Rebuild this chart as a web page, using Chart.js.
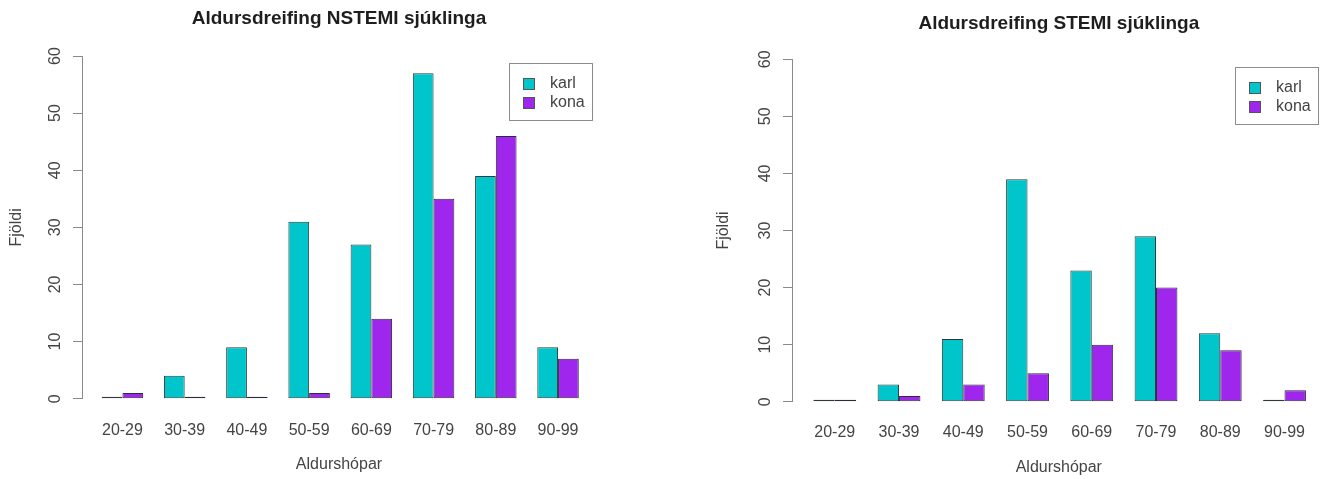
<!DOCTYPE html>
<html>
<head>
<meta charset="utf-8">
<title>Aldursdreifing</title>
<script src="https://cdn.jsdelivr.net/npm/chart.js@4.4.0/dist/chart.umd.min.js"></script>
<style>
    html, body { margin: 0; padding: 0; background: #fff; overflow: hidden; }
    body { width: 1322px; height: 479px; position: relative; }
    .box { position: absolute; top: 0; height: 479px; }
    #box_nstemi { left: 0; width: 661px; }
    #box_stemi { left: 700px; width: 626px; }
</style>
</head>
<body>
<div class="box" id="box_nstemi"><canvas id="nstemi"></canvas></div>
<div class="box" id="box_stemi"><canvas id="stemi"></canvas></div>
<script>
    const ageGroups = ['20-29', '30-39', '40-49', '50-59', '60-69', '70-79', '80-89', '90-99'];
    const yTicks = [0, 10, 20, 30, 40, 50, 60];
    const seriesNames = ['karl', 'kona'];

    const nstemi_karl = [0, 4, 9, 31, 27, 57, 39, 9];
    const nstemi_kona = [1, 0, 0, 1, 14, 35, 46, 7];

    const stemi_karl = [0, 3, 11, 39, 23, 29, 12, 0];
    const stemi_kona = [0, 1, 3, 5, 10, 20, 9, 2];

    const colorKarl = '#00c6cc';
    const colorKona = '#9f26ec';
    const fontFamily = "'Liberation Sans', Arial, sans-serif";

    Chart.defaults.font.family = fontFamily;
    Chart.defaults.font.size = 16;
    Chart.defaults.color = '#444';

    // legend with a frame, drawn inside the plot like R's legend("topright")
    const boxLegend = {
        id: 'boxLegend',
        afterDraw(chart, args, opts) {
            const ctx = chart.ctx;
            const area = chart.chartArea;
            const w = 83, h = 57;
            const left = Math.round(area.right - opts.right - w);
            const top = Math.round(area.top + opts.top);
            ctx.save();
            ctx.lineWidth = 1;
            ctx.strokeStyle = '#8c8c8c';
            ctx.strokeRect(left + 0.5, top + 0.5, w, h);
            ctx.font = '16px ' + fontFamily;
            ctx.textBaseline = 'middle';
            chart.data.datasets.forEach((ds, i) => {
                const y = Math.round(top + 21 + i * 19);
                ctx.fillStyle = ds.backgroundColor;
                ctx.fillRect(left + 14, y - 6, 12, 12);
                ctx.strokeStyle = '#555';
                ctx.strokeRect(left + 14.5, y - 5.5, 11, 11);
                ctx.fillStyle = '#444';
                ctx.fillText(ds.label, left + 41, y);
            });
            ctx.restore();
        }
    };

    function toPoints(values) {
        return values.map((v, i) => ({x: i, y: v}));
    }

    function makeConfig(s) {
        return {
            type: 'bar',
            data: {
                datasets: [
                    {
                        label: seriesNames[0],
                        data: toPoints(s.karl),
                        backgroundColor: colorKarl,
                        borderColor: '#2e3a3a',
                        borderWidth: 1,
                        borderSkipped: false,
                        minBarLength: 2,
                    },
                    {
                        label: seriesNames[1],
                        data: toPoints(s.kona),
                        backgroundColor: colorKona,
                        borderColor: '#2e2a3a',
                        borderWidth: 1,
                        borderSkipped: false,
                        minBarLength: 2,
                    }
                ]
            },
            options: {
                responsive: true,
                maintainAspectRatio: false,
                animation: false,
                layout: { padding: { top: 0, left: 0, bottom: 0, right: s.padRight } },
                datasets: {
                    bar: { categoryPercentage: 2 / 3, barPercentage: 1, grouped: true }
                },
                plugins: {
                    legend: { display: false },
                    tooltip: { enabled: false },
                    title: {
                        display: true,
                        text: s.title,
                        fullSize: false,
                        color: '#1e1e1e',
                        font: { size: 19, weight: 'bold' },
                        padding: { top: s.titleTop, bottom: s.titleBottom }
                    },
                    boxLegend: { right: s.legendRight, top: s.legendTop }
                },
                scales: {
                    x: {
                        type: 'linear',
                        offset: false,
                        min: s.xMin,
                        max: s.xMax,
                        grid: { display: false, drawTicks: false },
                        border: { display: false },
                        afterBuildTicks: (scale) => {
                            scale.ticks = ageGroups.map((g, i) => ({value: i}));
                        },
                        afterFit: (scale) => { scale.height = s.xHeight; },
                        ticks: {
                            autoSkip: false,
                            maxRotation: 0,
                            padding: s.xTickPad,
                            callback: (v) => ageGroups[v]
                        },
                        title: {
                            display: true,
                            text: 'Aldurshópar',
                            padding: { top: 0, bottom: s.xTitlePad }
                        }
                    },
                    y: {
                        min: 0,
                        max: 60,
                        afterBuildTicks: (scale) => {
                            scale.ticks = yTicks.map(v => ({value: v}));
                        },
                        afterFit: (scale) => { scale.width = s.yWidth; },
                        grid: {
                            drawOnChartArea: false,
                            drawTicks: true,
                            tickLength: 9,
                            color: '#8a8a8a'
                        },
                        border: { display: true, color: '#8a8a8a', width: 1 },
                        ticks: {
                            minRotation: 90,
                            maxRotation: 90,
                            crossAlign: 'center',
                            padding: 9
                        },
                        title: {
                            display: true,
                            text: 'Fjöldi',
                            padding: { top: s.yTitlePad, bottom: 0 }
                        }
                    }
                }
            },
            plugins: [boxLegend]
        };
    }

    const nstemiChart = new Chart(document.getElementById('nstemi'), makeConfig({
        title: 'Aldursdreifing NSTEMI sjúklinga',
        karl: nstemi_karl,
        kona: nstemi_kona,
        xMin: -0.65,
        xMax: 7.61,
        padRight: 65,
        yWidth: 82,
        xHeight: 80.3,
        titleTop: 7.6,
        titleBottom: 25.6,
        xTickPad: 22,
        xTitlePad: 4.4,
        yTitlePad: 7.4,
        legendRight: 4,
        legendTop: 7
    }));

    const stemiChart = new Chart(document.getElementById('stemi'), makeConfig({
        title: 'Aldursdreifing STEMI sjúklinga',
        karl: stemi_karl,
        kona: stemi_kona,
        xMin: -0.666,
        xMax: 7.64,
        padRight: 0,
        yWidth: 92,
        xHeight: 77.3,
        titleTop: 12.6,
        titleBottom: 23.9,
        xTickPad: 21,
        xTitlePad: 1.4,
        yTitlePad: 14.4,
        legendRight: 8,
        legendTop: 8
    }));
</script>
</body>
</html>
